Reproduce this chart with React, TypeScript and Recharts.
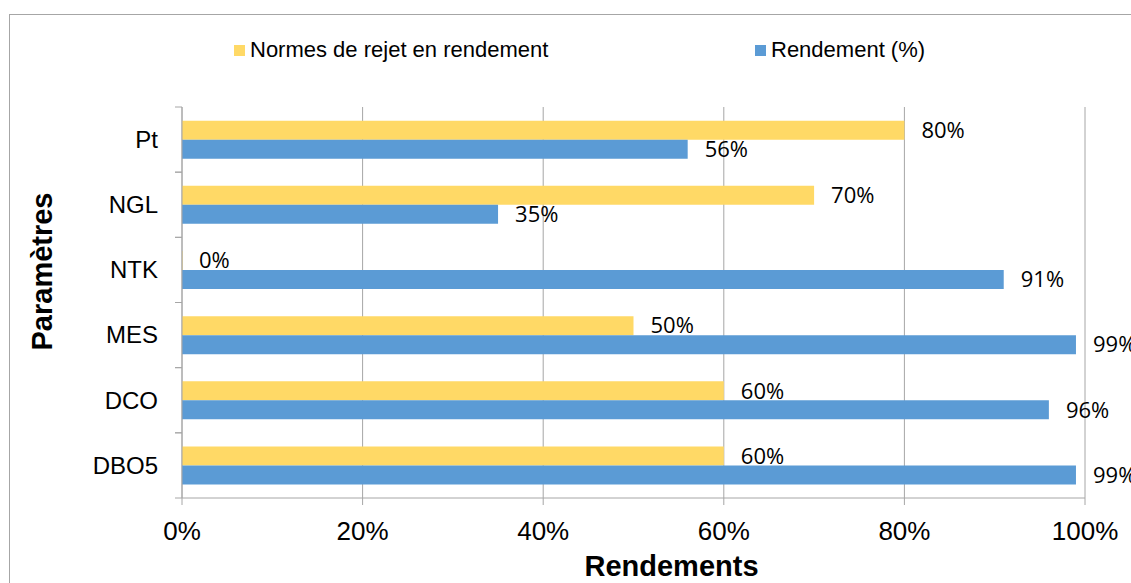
import { BarChart, Bar, XAxis, YAxis, CartesianGrid, LabelList, Label } from 'recharts';

const parametres = ['Pt', 'NGL', 'NTK', 'MES', 'DCO', 'DBO5'];
const normesRejet = [80, 70, 0, 50, 60, 60];
const rendement = [56, 35, 91, 99, 96, 99];
const xTicks = [0, 20, 40, 60, 80, 100];

const YELLOW = '#FFD966';
const BLUE = '#5B9BD5';
const GRAY = '#a6a6a6';
const SANS = '"Liberation Sans", Arial, sans-serif';
const LABEL_FONT = '"Open Sans", sans-serif';

const data = parametres.map((name, i) => ({
  name,
  normes: normesRejet[i],
  rendement: rendement[i],
}));

const pct = (v: number) => `${v}%`;

// category label + small tick marks on the band edges (Excel style)
function CategoryTick(props: any) {
  const { x, y, payload, height, visibleTicksCount } = props;
  const half = payload?.offset > 0 ? payload.offset : height / visibleTicksCount / 2;
  const axisX = x + 17;
  return (
    <g>
      <line x1={axisX} x2={axisX + 7} y1={y - half} y2={y - half} stroke={GRAY} />
      <line x1={axisX} x2={axisX + 7} y1={y + half} y2={y + half} stroke={GRAY} />
      <text x={x} y={y} dy="0.35em" textAnchor="end" fontSize={24} fill="#000" fontFamily={SANS}>
        {payload.value}
      </text>
    </g>
  );
}

function ValueLabel(props: any) {
  const { x, y, width, height, value } = props;
  const w = value === 0 ? 0 : width;
  return (
    <text
      x={x + w + 17}
      y={y + height / 2}
      dy="0.35em"
      fontSize={22}
      fill="#000"
      fontFamily={LABEL_FONT}
    >
      {pct(value)}
    </text>
  );
}

export default function App() {
  return (
    <div style={{ position: 'absolute', left: 0, top: 0, width: 1131, height: 583, overflow: 'hidden', background: '#fff', fontFamily: SANS }}>
      <div style={{ position: 'absolute', left: 9, top: 14, width: 1200, height: 600, border: `1px solid ${GRAY}` }} />

      <div style={{ position: 'absolute', top: 37, left: 234, display: 'flex', alignItems: 'center', fontSize: 22, color: '#000' }}>
        <div style={{ width: 521, display: 'flex', alignItems: 'center' }}>
          <span style={{ width: 11, height: 11, background: YELLOW, marginRight: 5 }} />
          Normes de rejet en rendement
        </div>
        <div style={{ display: 'flex', alignItems: 'center' }}>
          <span style={{ width: 11, height: 11, background: BLUE, marginRight: 5 }} />
          Rendement (%)
        </div>
      </div>

      <BarChart
        width={1131}
        height={583}
        data={data}
        layout="vertical"
        margin={{ top: 107, right: 46, bottom: 5, left: 32 }}
        barCategoryGap="21%"
        barGap={0}
        style={{ position: 'absolute', left: 0, top: 0 }}
      >
        <CartesianGrid horizontal={false} stroke={GRAY} />
        <XAxis
          type="number"
          domain={[0, 100]}
          ticks={xTicks}
          tickFormatter={pct}
          axisLine={{ stroke: GRAY }}
          tickLine={{ stroke: GRAY }}
          tickSize={7}
          tickMargin={17}
          height={80}
          tick={{ fontSize: 26, fill: '#000', fontFamily: SANS }}
        >
          <Label
            content={({ viewBox }: any) => (
              <text
                x={viewBox.x + viewBox.width / 2 + 38}
                y={viewBox.y + 78}
                textAnchor="middle"
                fontSize={29}
                fontWeight="bold"
                fontFamily={SANS}
                fill="#000"
              >
                Rendements
              </text>
            )}
          />
        </XAxis>
        <YAxis
          type="category"
          dataKey="name"
          width={150}
          axisLine={{ stroke: GRAY }}
          tickLine={false}
          tickSize={7}
          tickMargin={17}
          tick={<CategoryTick />}
        >
          <Label
            content={({ viewBox }: any) => {
              const cx = viewBox.x + 10;
              const cy = viewBox.y + viewBox.height / 2 - 31;
              return (
                <text
                  x={cx}
                  y={cy}
                  transform={`rotate(-90 ${cx} ${cy})`}
                  textAnchor="middle"
                  dominantBaseline="central"
                  fontSize={29}
                  fontWeight="bold"
                  fontFamily={SANS}
                  fill="#000"
                >
                  Paramètres
                </text>
              );
            }}
          />
        </YAxis>
        <Bar dataKey="normes" fill={YELLOW} minPointSize={0.5} isAnimationActive={false}>
          <LabelList dataKey="normes" content={<ValueLabel />} />
        </Bar>
        <Bar dataKey="rendement" fill={BLUE} isAnimationActive={false}>
          <LabelList dataKey="rendement" content={<ValueLabel />} />
        </Bar>
      </BarChart>
    </div>
  );
}
